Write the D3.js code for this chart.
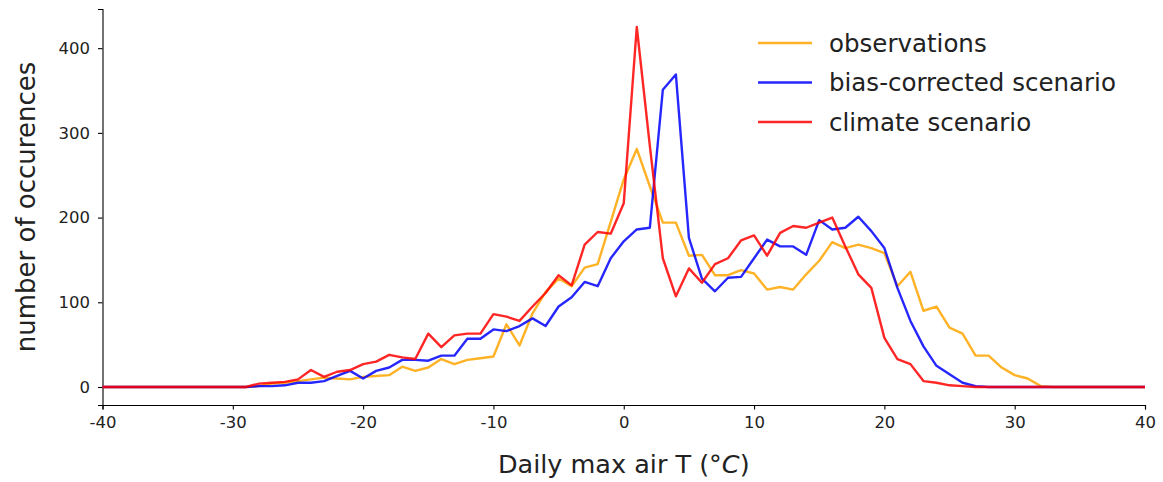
<!DOCTYPE html>
<html>
<head>
<meta charset="utf-8">
<script src="https://cdn.jsdelivr.net/npm/d3@7"></script>
<style>
  html, body { margin: 0; padding: 0; background: #fff; }
  svg { display: block; font-family: "DejaVu Sans", sans-serif; }
</style>
</head>
<body>
<svg id="chart" width="1163" height="482"></svg>
<script>
// Temperature bins (°C), one per degree
const temps = d3.range(-40, 41);

// Counts per bin, from -40 to 40
const observations = [
  0,0,0,0,0,0,0,0,0,0,0,0,            // -40 .. -29
  1,4,5,7,9,11,10,9,12,13,14,24,19,23,33,27,32,34,36,74,49,87,112,128,119,141,145,195, // -28 .. -1
  245,281,237,194,194,155,156,132,132,138,134,115,118,115,133,149,171,164,168,164,158, // 0 .. 20
  119,136,90,95,70,63,37,37,23,14,10,1,  // 21 .. 32
  0,0,0,0,0,0,0,0                        // 33 .. 40
];
const biasCorrected = [
  0,0,0,0,0,0,0,0,0,0,0,0,
  1,1,2,5,5,7,13,19,10,19,23,32,32,31,37,37,57,57,68,66,72,81,72,95,106,124,119,152,
  172,186,188,351,369,176,128,113,129,130,152,174,166,166,156,197,186,188,201,184,164,
  117,78,48,25,15,5,1,0,0,0,0,0,
  0,0,0,0,0,0,0,0
];
const climateScenario = [
  0,0,0,0,0,0,0,0,0,0,0,0,
  4,5,6,9,20,12,18,20,27,30,38,35,33,63,47,61,63,63,86,83,78,95,111,132,120,168,183,181,
  217,425,285,152,107,140,123,145,152,173,179,155,182,190,188,194,200,166,133,117,58,
  33,27,7,5,2,1,0,0,0,0,0,0,
  0,0,0,0,0,0,0,0
];

const seriesNames = ["observations", "bias-corrected scenario", "climate scenario"];
const seriesColors = ["orange", "blue", "red"];
const xTicks = [-40, -30, -20, -10, 0, 10, 20, 30, 40];
const yTicks = [0, 100, 200, 300, 400];

const svg = d3.select("#chart");
const plotLeft = 102.5, plotRight = 1145, plotTop = 9, plotBottom = 405;

const x = d3.scaleLinear().domain([-40, 40]).range([plotLeft, plotRight]);
const yMax = d3.max([observations, biasCorrected, climateScenario].flat());
const pad = yMax * 0.05;
const y = d3.scaleLinear().domain([-pad, yMax + pad]).range([plotBottom, plotTop]);

// Axes
const xAxis = svg.append("g")
  .attr("transform", `translate(0,${plotBottom})`)
  .call(d3.axisBottom(x).tickValues(xTicks).tickSize(4.5).tickPadding(7)
    .tickFormat(d => String(d)));
const yAxis = svg.append("g")
  .attr("transform", `translate(${plotLeft},0)`)
  .call(d3.axisLeft(y).tickValues(yTicks).tickSize(4.5).tickPadding(8));

[xAxis, yAxis].forEach(g => {
  g.select(".domain").attr("stroke", "#000").attr("stroke-width", 1.1);
  g.selectAll(".tick line").attr("stroke", "#000").attr("stroke-width", 1.1);
  g.selectAll(".tick text")
    .attr("font-family", "DejaVu Sans, sans-serif")
    .attr("font-size", 16.5)
    .attr("fill", "#222");
});

// Lines
const line = d3.line().x((d, i) => x(temps[i])).y(d => y(d));
const allSeries = [observations, biasCorrected, climateScenario];
allSeries.forEach((s, k) => {
  svg.append("path")
    .datum(s)
    .attr("fill", "none")
    .attr("stroke", seriesColors[k])
    .attr("stroke-opacity", 0.85)
    .attr("stroke-width", 2.4)
    .attr("stroke-linejoin", "round")
    .attr("d", line);
});

// Axis titles
const xTitle = svg.append("text")
  .attr("x", (plotLeft + plotRight) / 2)
  .attr("y", 473)
  .attr("text-anchor", "middle")
  .attr("font-size", 25.5)
  .attr("fill", "#222");
xTitle.append("tspan").text("Daily max air T (°");
xTitle.append("tspan").attr("font-style", "italic").text("C");
xTitle.append("tspan").text(")");

svg.append("text")
  .attr("transform", `translate(35,${(plotTop + plotBottom) / 2}) rotate(-90)`)
  .attr("text-anchor", "middle")
  .attr("font-size", 26)
  .attr("fill", "#222")
  .text("number of occurences");

// Legend
const legend = svg.append("g").attr("transform", "translate(758,43)");
seriesNames.forEach((name, k) => {
  const row = legend.append("g").attr("transform", `translate(0,${k * 39.5})`);
  row.append("line")
    .attr("x1", 0).attr("x2", 54).attr("y1", 0).attr("y2", 0)
    .attr("stroke", seriesColors[k]).attr("stroke-opacity", 0.85).attr("stroke-width", 2.4);
  row.append("text")
    .attr("x", 71).attr("y", 8.5)
    .attr("font-size", 24.5)
    .attr("fill", "#222")
    .text(name);
});
</script>
</body>
</html>
